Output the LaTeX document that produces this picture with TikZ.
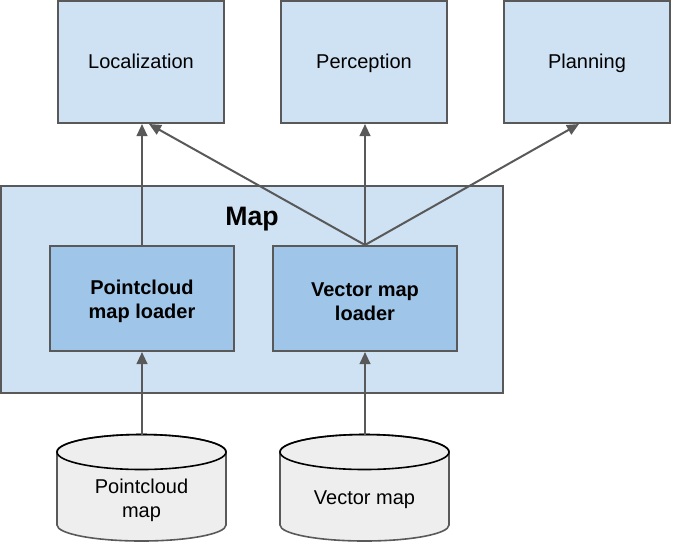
\documentclass[tikz,border=0pt]{standalone}
\usepackage{fontspec}
\setmainfont{Liberation Sans}
\usetikzlibrary{arrows.meta}
\definecolor{lblue}{HTML}{CFE2F3}
\definecolor{mblue}{HTML}{9FC5E8}
\definecolor{cgray}{HTML}{EEEEEE}
\definecolor{stroke}{HTML}{595959}
\tikzset{
  box/.style={draw=stroke, line width=1.5pt, fill=lblue, minimum width=166*0.75pt, minimum height=122*0.75pt, inner sep=0pt, text height=2.25ex, text depth=0.35ex, font=\fontsize{15}{18}\selectfont},
  loader/.style={draw=stroke, line width=1.5pt, fill=mblue, minimum width=184*0.75pt, minimum height=105*0.75pt, inner sep=0pt, align=center, font=\fontsize{15}{18}\selectfont\bfseries},
  looklabel/.style={inner sep=0pt, align=center, font=\fontsize{15}{18}\selectfont\bfseries},
  cyltext/.style={inner sep=0pt, align=center, font=\fontsize{15}{18}\selectfont},
  cylbody/.style={draw=stroke, line width=1.2pt, fill=cgray},
  conn/.style={draw=stroke, line width=1.5pt, -{Triangle[length=9pt, width=8pt]}}
}
\newcommand{\mycyl}[1]{% center x
  \path[cylbody] (#1-84.5,452) -- (#1-84.5,525) arc[x radius=84.5, y radius=16, start angle=180, end angle=0] -- (#1+84.5,452) arc[x radius=84.5, y radius=17.5, start angle=0, end angle=-180] -- cycle;
  \draw[stroke, line width=1.2pt] (#1,452) ellipse[x radius=84.5, y radius=17.5];
}
\begin{document}
\begin{tikzpicture}[x=0.75pt, y=-0.75pt]
\useasboundingbox (0,0) rectangle (673,543);
% top boxes
\node[box] (loc) at (141,62) {Localization};
\node[box] (per) at (364,62) {Perception};
\node[box] (pla) at (587,62) {Planning};
% map container
\node[draw=stroke, line width=1.5pt, fill=lblue, minimum width=502*0.75pt, minimum height=207*0.75pt, inner sep=0pt] (map) at (252,289.5) {};
\node[font=\fontsize{20}{24}\selectfont\bfseries] (maplabel) at (252,219) {Map};
\node[loader] (pcl) at (142,298.5) {};
\node[loader] (vml) at (365,298.5) {};
\node[looklabel] (pcltext) at (142,301.5) {Pointcloud\\map loader};
\node[looklabel] (vmltext) at (365,301.5) {Vector map\\loader};
% cylinders
\mycyl{141.5}
\mycyl{364.5}
\node[cyltext] (pcm) at (141.5,500) {Pointcloud\\map};
\node[cyltext] (vm) at (364.5,500) {Vector map};
\coordinate (pcmtop) at (142,435);
\coordinate (vmtop) at (365,435);
% connectors
\draw[conn] (pcl.north) -- (pcl.north |- loc.south);
\draw[conn] (vml.north) -- ([xshift=6]loc.south);
\draw[conn] (vml.north) -- (vml.north |- per.south);
\draw[conn] (vml.north) -- ([xshift=-6]pla.south);
\draw[conn] (pcmtop) -- (pcl.south);
\draw[conn] (vmtop) -- (vml.south);
\end{tikzpicture}
\end{document}
